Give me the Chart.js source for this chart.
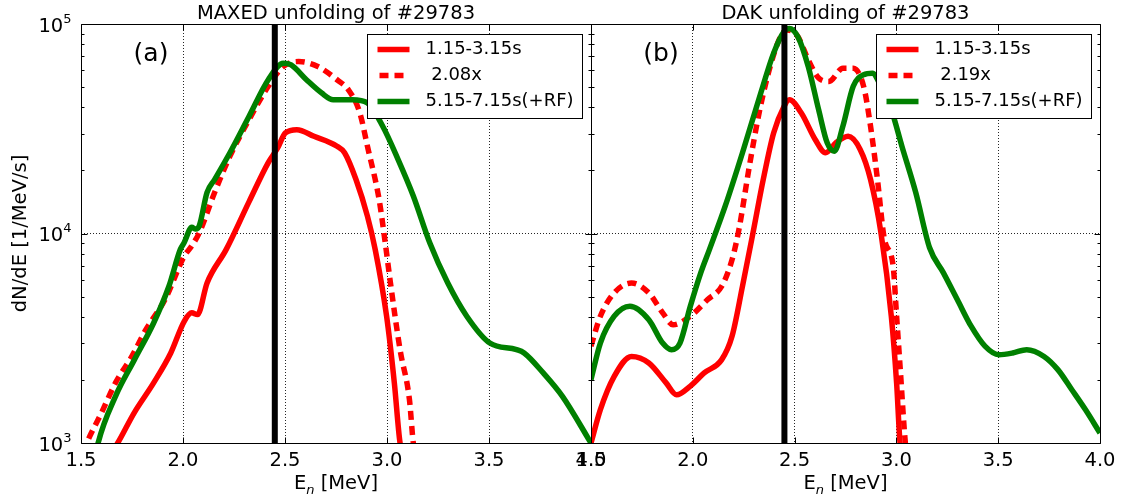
<!DOCTYPE html>
<html>
<head>
<meta charset="utf-8">
<script src="https://cdn.jsdelivr.net/npm/chart.js@4.4.0/dist/chart.umd.min.js"></script>
<style>
  html, body { margin: 0; padding: 0; background: #fff; }
  #wrap { position: relative; width: 1124px; height: 501px; overflow: hidden; }
  #wrap canvas { position: absolute; top: 0; }
  #maxed { left: 0; }
  #dak { left: 560px; }
</style>
</head>
<body>
<div id="wrap">
  <canvas id="maxed" width="620" height="501"></canvas>
  <canvas id="dak" width="564" height="501"></canvas>
</div>
<script>
const FONT = '"DejaVu Sans", sans-serif';

// MAXED unfolding, neutron energy [MeV] vs dN/dE [1/MeV/s]
const maxedEarlyE = [1.65, 1.68, 1.76, 1.856, 1.94, 2.006, 2.043, 2.071, 2.118, 2.212, 2.324, 2.418, 2.464, 2.502, 2.558, 2.642, 2.755, 2.792, 2.848, 2.904, 2.942, 2.998, 3.036, 3.064, 3.08];
const maxedEarly = [900, 1000, 1390, 1936, 2690, 3811, 4180, 4100, 5810, 8400, 14200, 21800, 25600, 30200, 31300, 29100, 26100, 24300, 18100, 12100, 8400, 4030, 1935, 1000, 900];
const maxedScaledE = [1.51, 1.528, 1.6, 1.669, 1.75, 1.818, 1.912, 2.006, 2.043, 2.08, 2.155, 2.23, 2.324, 2.418, 2.492, 2.567, 2.661, 2.755, 2.811, 2.867, 2.904, 2.961, 2.989, 3.017, 3.064, 3.11, 3.129, 3.14];
const maxedScaled = [900, 1000, 1390, 1936, 2600, 3475, 4840, 7800, 8730, 10100, 15700, 23400, 35000, 50400, 62700, 66200, 62700, 54200, 48500, 37600, 26100, 14600, 9400, 5800, 2790, 1610, 1000, 900];
const maxedRfE = [1.575, 1.584, 1.669, 1.762, 1.856, 1.931, 1.987, 2.006, 2.043, 2.062, 2.08, 2.118, 2.155, 2.23, 2.324, 2.418, 2.492, 2.53, 2.605, 2.68, 2.736, 2.83, 2.904, 2.979, 3.054, 3.129, 3.21, 3.298, 3.391, 3.504, 3.635, 3.672, 3.766, 3.86, 4.0];
const maxedRf = [900, 1000, 1670, 2500, 3740, 5600, 8400, 9060, 10700, 10500, 10900, 15700, 18100, 24300, 36300, 54200, 65000, 63800, 54200, 46800, 43500, 43500, 42000, 32500, 22600, 15100, 9000, 5800, 4030, 3000, 2790, 2690, 2160, 1670, 1000];

// DAK unfolding
const dakEarlyE = [1.5, 1.546, 1.614, 1.699, 1.784, 1.869, 1.92, 1.988, 2.056, 2.142, 2.193, 2.244, 2.295, 2.346, 2.397, 2.448, 2.474, 2.533, 2.601, 2.652, 2.703, 2.763, 2.822, 2.873, 2.924, 2.975, 3.001, 3.018, 3.03];
const dakEarly = [1000, 1443, 2080, 2590, 2410, 1936, 1700, 1870, 2160, 2500, 3240, 5600, 10000, 18100, 30200, 40400, 43500, 37600, 28100, 24300, 27100, 29100, 25200, 18100, 10100, 4030, 1936, 1000, 900];
const dakScaledE = [1.5, 1.546, 1.614, 1.699, 1.784, 1.852, 1.903, 1.988, 2.073, 2.142, 2.193, 2.227, 2.278, 2.329, 2.38, 2.431, 2.465, 2.516, 2.567, 2.618, 2.669, 2.737, 2.788, 2.839, 2.873, 2.907, 2.941, 2.984, 3.001, 3.018, 3.044, 3.05];
const dakScaled = [2900, 4030, 5210, 5800, 5210, 4180, 3670, 4030, 4840, 5600, 7510, 10500, 21000, 39000, 62700, 87000, 93600, 87000, 67400, 55200, 53200, 61500, 61500, 50400, 32500, 18100, 9400, 6990, 4030, 2320, 1000, 900];
const dakRfE = [1.5, 1.546, 1.614, 1.691, 1.784, 1.852, 1.895, 1.937, 1.988, 2.039, 2.082, 2.159, 2.244, 2.329, 2.397, 2.448, 2.474, 2.516, 2.567, 2.618, 2.66, 2.695, 2.737, 2.788, 2.839, 2.882, 2.924, 2.975, 3.027, 3.095, 3.163, 3.231, 3.299, 3.367, 3.435, 3.503, 3.571, 3.64, 3.725, 3.793, 3.861, 3.929, 4.0];
const dakRf = [2010, 3000, 4030, 4500, 3880, 3000, 2790, 3000, 4500, 6490, 8400, 13500, 24300, 45200, 72600, 92000, 95300, 87000, 62700, 39000, 27100, 24700, 32500, 50400, 57300, 58200, 50400, 39000, 26100, 15700, 8550, 6490, 4840, 3610, 2900, 2640, 2690, 2790, 2590, 2240, 1800, 1440, 1116];

const markerE = 2.45;
const xTicks = [1.5, 2.0, 2.5, 3.0, 3.5, 4.0];
const yTicks = [1e3, 1e4, 1e5];
const legendMaxed = ['1.15-3.15s', ' 2.08x', '5.15-7.15s(+RF)'];
const legendDak = ['1.15-3.15s', ' 2.19x', '5.15-7.15s(+RF)'];

const pts = (xs, ys) => xs.map((x, i) => ({ x, y: ys[i] }));

function curve(label, data, color, dash, order) {
    return {
        label, data, order,
        borderColor: color,
        borderWidth: 5.5,
        borderDash: dash,
        borderCapStyle: 'butt',
        pointRadius: 0,
        tension: 0.4,
        cubicInterpolationMode: 'monotone',
        clip: 0
    };
}

// frame, inward ticks, tick labels with exponents, titles and the boxed legend
const decor = {
    id: 'decor',
    afterDatasetsDraw(chart, args, opts) {
        const { ctx, chartArea: a } = chart;
        const xs = chart.scales.x, ys = chart.scales.y;
        const L = Math.round(a.left) + 0.5, R = Math.round(a.right) + 0.5;
        const T = Math.round(a.top) + 0.5, B = Math.round(a.bottom) + 0.5;
        ctx.save();
        ctx.setLineDash([]);
        ctx.strokeStyle = '#000';
        ctx.lineWidth = 1;
        ctx.beginPath();
        ctx.rect(L, T, R - L, B - T);
        xTicks.forEach(v => {
            const px = Math.round(xs.getPixelForValue(v)) + 0.5;
            ctx.moveTo(px, B); ctx.lineTo(px, B - 6);
            ctx.moveTo(px, T); ctx.lineTo(px, T + 6);
        });
        for (let k = 3; k <= 5; k++) {
            for (let m = 1; m <= 9; m++) {
                const v = m * Math.pow(10, k);
                if (v > 1e5) break;
                const len = m === 1 ? 6 : 3;
                const py = Math.round(ys.getPixelForValue(v)) + 0.5;
                ctx.moveTo(L, py); ctx.lineTo(L + len, py);
                ctx.moveTo(R, py); ctx.lineTo(R - len, py);
            }
        }
        ctx.stroke();

        ctx.fillStyle = '#000';
        const cx = (a.left + a.right) / 2;

        // title and panel tag
        ctx.font = `19.5px ${FONT}`;
        ctx.textAlign = 'center';
        ctx.textBaseline = 'alphabetic';
        ctx.fillText(opts.title, cx, a.top - 5);
        ctx.font = `25px ${FONT}`;
        ctx.fillText(opts.tag, a.left + 70, a.top + 37);

        // x axis label: E with italic subscript n
        const base = a.bottom + 46;
        ctx.font = `19.5px ${FONT}`;
        const wE = ctx.measureText('E').width;
        const wUnit = ctx.measureText(' [MeV]').width;
        ctx.font = `italic 13px ${FONT}`;
        const wn = ctx.measureText('n').width;
        let sx = cx - (wE + wn + wUnit) / 2;
        ctx.textAlign = 'left';
        ctx.font = `19.5px ${FONT}`;
        ctx.fillText('E', sx, base);
        ctx.font = `italic 13px ${FONT}`;
        ctx.fillText('n', sx + wE, base + 5);
        ctx.font = `19.5px ${FONT}`;
        ctx.fillText(' [MeV]', sx + wE + wn, base);

        if (opts.showY) {
            yTicks.forEach(v => {
                const py = ys.getPixelForValue(v);
                const exp = String(Math.round(Math.log10(v)));
                const xr = a.left - 9.5;
                ctx.textAlign = 'right';
                ctx.font = `13px ${FONT}`;
                ctx.fillText(exp, xr, py - 1.5);
                const we = ctx.measureText(exp).width;
                ctx.font = `19.5px ${FONT}`;
                ctx.fillText('10', xr - we, py + 7.5);
            });
            ctx.save();
            ctx.translate(26, (a.top + a.bottom) / 2);
            ctx.rotate(-Math.PI / 2);
            ctx.textAlign = 'center';
            ctx.font = `19.5px ${FONT}`;
            ctx.fillText('dN/dE [1/MeV/s]', 0, 0);
            ctx.restore();
        }

        // legend box in the upper right corner
        const items = chart.data.datasets.filter(d => d.label);
        ctx.font = `18px ${FONT}`;
        const tw = Math.max(...items.map(d => ctx.measureText(d.label).width));
        const bw = Math.round(10 + 32 + 16 + tw + 9), bh = 84;
        const bx = Math.round(a.right - 9 - bw) + 0.5, by = Math.round(a.top + 10) + 0.5;
        ctx.fillStyle = '#fff';
        ctx.fillRect(bx, by, bw, bh);
        ctx.strokeStyle = '#000';
        ctx.lineWidth = 1;
        ctx.strokeRect(bx, by, bw, bh);
        items.forEach((d, i) => {
            const cy = by + 15 + i * 26;
            ctx.strokeStyle = d.borderColor;
            ctx.lineWidth = d.borderWidth;
            ctx.setLineDash(d.borderDash);
            ctx.lineDashOffset = -2;
            ctx.beginPath();
            ctx.moveTo(bx + 10, cy);
            ctx.lineTo(bx + 42, cy);
            ctx.stroke();
            ctx.setLineDash([]);
            ctx.fillStyle = '#000';
            ctx.textAlign = 'left';
            ctx.textBaseline = 'middle';
            ctx.fillText(d.label, bx + 58, cy);
        });
        ctx.restore();
    }
};

function edgeGrid(lo, hi) {
    return c => (c.tick && (c.tick.value === lo || c.tick.value === hi)) ? 'rgba(0,0,0,0)' : 'rgba(0,0,0,0.85)';
}

function makePanel(id, opts) {
    const datasets = [
        curve(opts.legend[0], pts(opts.earlyE, opts.early), '#ff0000', [], 3),
        curve(opts.legend[1], pts(opts.scaledE, opts.scaled), '#ff0000', [9, 6], 2),
        curve(opts.legend[2], pts(opts.rfE, opts.rf), '#008000', [], 1),
        {
            data: [{ x: markerE, y: 1e3 }, { x: markerE, y: 1e5 }],
            borderColor: '#000', borderWidth: 6, pointRadius: 0,
            tension: 0, clip: 0, order: 0
        }
    ];
    return new Chart(document.getElementById(id), {
        type: 'line',
        data: { datasets },
        options: {
            responsive: false,
            animation: false,
            events: [],
            layout: { padding: { top: 24, right: opts.padRight, left: 0, bottom: 0 } },
            scales: {
                x: {
                    type: 'linear', min: 1.5, max: 4.0,
                    afterBuildTicks: ax => { ax.ticks = xTicks.map(v => ({ value: v })); },
                    afterFit: ax => { ax.height = 58; },
                    ticks: {
                        callback: v => Number(v).toFixed(1),
                        padding: 6, color: '#000', autoSkip: false, maxRotation: 0,
                        font: { family: FONT, size: 19.5 }
                    },
                    grid: { color: edgeGrid(1.5, 4.0), lineWidth: 1, drawTicks: false },
                    border: { display: false, dash: [1, 2] }
                },
                y: {
                    type: 'logarithmic', min: 1e3, max: 1e5,
                    afterBuildTicks: ax => { ax.ticks = yTicks.map(v => ({ value: v })); },
                    afterFit: ax => { ax.width = opts.yWidth; },
                    ticks: { display: false },
                    grid: { color: edgeGrid(1e3, 1e5), lineWidth: 1, drawTicks: false },
                    border: { display: false, dash: [1, 2] }
                }
            },
            plugins: {
                legend: { display: false },
                tooltip: { enabled: false },
                decor: { title: opts.title, tag: opts.tag, showY: opts.showY }
            }
        },
        plugins: [decor]
    });
}

makePanel('maxed', {
    title: 'MAXED unfolding of #29783', tag: '(a)', showY: true,
    yWidth: 81, padRight: 29, legend: legendMaxed,
    earlyE: maxedEarlyE, early: maxedEarly,
    scaledE: maxedScaledE, scaled: maxedScaled,
    rfE: maxedRfE, rf: maxedRf
});

makePanel('dak', {
    title: 'DAK unfolding of #29783', tag: '(b)', showY: false,
    yWidth: 31, padRight: 24, legend: legendDak,
    earlyE: dakEarlyE, early: dakEarly,
    scaledE: dakScaledE, scaled: dakScaled,
    rfE: dakRfE, rf: dakRf
});
</script>
</body>
</html>
